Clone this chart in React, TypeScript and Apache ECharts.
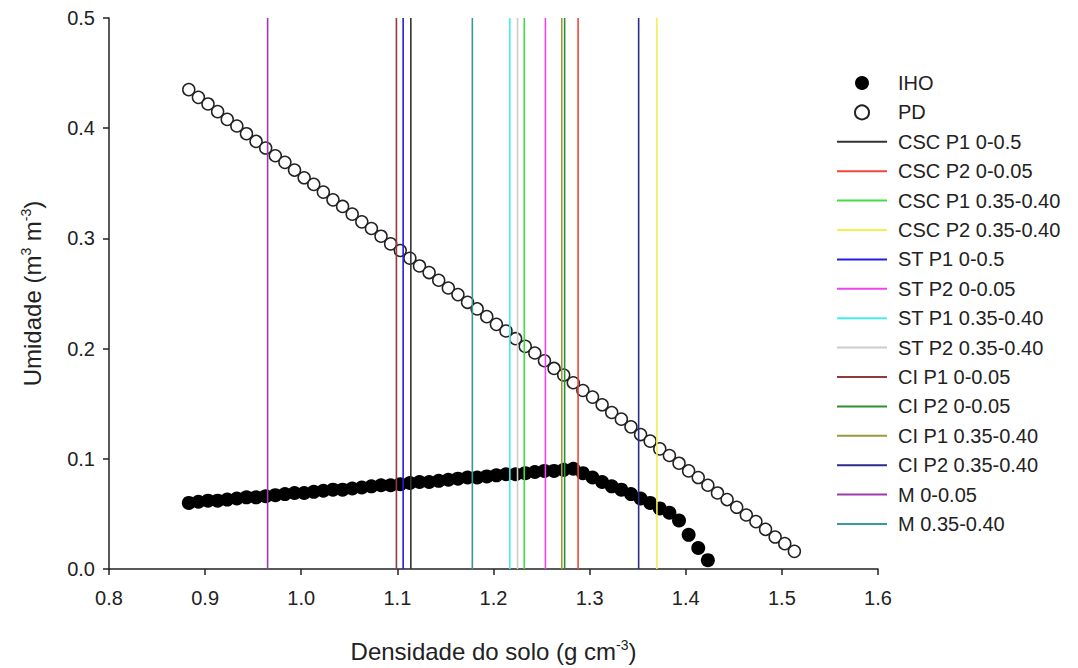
import React, { useEffect, useRef } from "react";
import * as echarts from "echarts";

// Soil bulk density grid (g cm-3) shared by both water-content curves
const density = [
  0.883, 0.893, 0.903, 0.913, 0.923, 0.933, 0.943, 0.953, 0.963, 0.973,
  0.983, 0.993, 1.003, 1.013, 1.023, 1.033, 1.043, 1.053, 1.063, 1.073,
  1.083, 1.093, 1.103, 1.113, 1.123, 1.133, 1.143, 1.153, 1.163, 1.173,
  1.183, 1.193, 1.203, 1.213, 1.223, 1.233, 1.243, 1.253, 1.263, 1.273,
  1.283, 1.293, 1.303, 1.313, 1.323, 1.333, 1.343, 1.353, 1.363, 1.373,
  1.383, 1.393, 1.403, 1.413, 1.423, 1.433, 1.443, 1.453, 1.463, 1.473,
  1.483, 1.493, 1.503, 1.513,
];

// IHO water content (m3 m-3), first 55 densities
const iho = [
  0.060, 0.061, 0.062, 0.062, 0.063, 0.064, 0.065, 0.065, 0.066, 0.067,
  0.068, 0.069, 0.069, 0.070, 0.071, 0.072, 0.072, 0.073, 0.074, 0.075,
  0.076, 0.076, 0.077, 0.078, 0.079, 0.079, 0.080, 0.081, 0.082, 0.083,
  0.083, 0.084, 0.085, 0.086, 0.086, 0.087, 0.088, 0.089, 0.089, 0.090,
  0.091, 0.087, 0.083, 0.079, 0.075, 0.072, 0.068, 0.064, 0.060, 0.055,
  0.051, 0.044, 0.031, 0.019, 0.008,
];

// PD water content (m3 m-3)
const pd = [
  0.435, 0.428, 0.422, 0.415, 0.408, 0.402, 0.395, 0.388, 0.382, 0.375,
  0.369, 0.362, 0.355, 0.349, 0.342, 0.335, 0.329, 0.322, 0.315, 0.309,
  0.302, 0.295, 0.289, 0.282, 0.275, 0.269, 0.262, 0.255, 0.249, 0.242,
  0.236, 0.229, 0.222, 0.216, 0.209, 0.202, 0.196, 0.189, 0.182, 0.176,
  0.169, 0.162, 0.156, 0.149, 0.142, 0.136, 0.129, 0.122, 0.116, 0.109,
  0.103, 0.096, 0.089, 0.083, 0.076, 0.069, 0.063, 0.056, 0.049, 0.043,
  0.036, 0.029, 0.023, 0.016,
];

// Measured bulk density per treatment (vertical reference lines)
const treatments = [
  "CSC P1 0-0.5",
  "CSC P2 0-0.05",
  "CSC P1 0.35-0.40",
  "CSC P2 0.35-0.40",
  "ST P1 0-0.5",
  "ST P2 0-0.05",
  "ST P1 0.35-0.40",
  "ST P2 0.35-0.40",
  "CI P1 0-0.05",
  "CI P2 0-0.05",
  "CI P1 0.35-0.40",
  "CI P2 0.35-0.40",
  "M 0-0.05",
  "M 0.35-0.40",
];
const treatmentDensity = [
  1.114, 1.288, 1.232, 1.37, 1.106, 1.254, 1.217, 1.225, 1.099, 1.274,
  1.271, 1.351, 0.965, 1.178,
];

const xTicks = { min: 0.8, max: 1.6, step: 0.1 };
const yTicks = { min: 0, max: 0.5, step: 0.1 };

const lineColors = [
  "#333333",
  "#f0463c",
  "#44dd44",
  "#f4ef50",
  "#2020e0",
  "#ee44ee",
  "#44eeee",
  "#cccccc",
  "#8e3b3b",
  "#2f8f2f",
  "#9c9a3c",
  "#2b2b8c",
  "#9b3caa",
  "#3a9898",
];

const FONT = "'Liberation Sans', Arial, sans-serif";

export default function App() {
  const ref = useRef<HTMLDivElement>(null);

  useEffect(() => {
    if (!ref.current) return;
    const chart = echarts.init(ref.current, undefined, { renderer: "svg" });

    const ihoData = iho.map((v, i) => [density[i], v]);
    const pdData = pd.map((v, i) => [density[i], v]);

    const lineSeries = treatments.map((name, i) => ({
      name,
      type: "line",
      symbol: "none",
      z: 5,
      lineStyle: { color: lineColors[i], width: 1.6 },
      itemStyle: { color: lineColors[i] },
      data: [
        [treatmentDensity[i], yTicks.min],
        [treatmentDensity[i], yTicks.max],
      ],
    }));

    const supRich = {
      sup: {
        fontSize: 14,
        fontFamily: FONT,
        color: "#222",
        padding: [0, 0, 12, 0],
      },
    };

    chart.setOption({
      animation: false,
      backgroundColor: "#ffffff",
      textStyle: { fontFamily: FONT },
      grid: { left: 109, right: 200, top: 18, bottom: 95 },
      legend: {
        orient: "vertical",
        left: 836,
        top: 73,
        padding: 0,
        itemWidth: 50,
        itemHeight: 14,
        itemGap: 9.4,
        textStyle: {
          fontFamily: FONT,
          fontSize: 20,
          color: "#222",
          lineHeight: 20,
          padding: [0, 0, 0, 6],
        },
        data: [
          "IHO",
          "PD",
          // line-only keys: hide the marker drawn in the middle of the icon
          ...treatments.map((name) => ({ name, itemStyle: { opacity: 0 } })),
        ],
      },
      xAxis: {
        type: "value",
        min: xTicks.min,
        max: xTicks.max,
        interval: xTicks.step,
        name: "Densidade do solo (g cm{sup|-3})",
        nameLocation: "middle",
        nameGap: 69,
        nameTextStyle: {
          fontFamily: FONT,
          fontSize: 24,
          color: "#222",
          rich: supRich,
        },
        axisLine: { onZero: false, lineStyle: { color: "#222", width: 1.5 } },
        axisTick: { length: 6, lineStyle: { color: "#222", width: 1.5 } },
        axisLabel: {
          fontFamily: FONT,
          fontSize: 20,
          color: "#222",
          margin: 19,
          formatter: (v: number) => v.toFixed(1),
        },
        splitLine: { show: false },
      },
      yAxis: {
        type: "value",
        min: yTicks.min,
        max: yTicks.max,
        interval: yTicks.step,
        name: "Umidade (m{sup|3} m{sup|-3})",
        nameLocation: "middle",
        nameGap: 64,
        nameTextStyle: {
          fontFamily: FONT,
          fontSize: 24,
          color: "#222",
          rich: supRich,
        },
        axisLine: { onZero: false, lineStyle: { color: "#222", width: 1.5 } },
        axisTick: { length: 6, lineStyle: { color: "#222", width: 1.5 } },
        axisLabel: {
          fontFamily: FONT,
          fontSize: 20,
          color: "#222",
          margin: 14,
          formatter: (v: number) => v.toFixed(1),
        },
        splitLine: { show: false },
      },
      series: [
        {
          name: "IHO",
          type: "scatter",
          symbol: "circle",
          symbolSize: 14,
          z: 2,
          itemStyle: { color: "#000000", opacity: 1 },
          data: ihoData,
        },
        {
          name: "PD",
          type: "scatter",
          symbol: "circle",
          symbolSize: 12,
          z: 3,
          itemStyle: {
            color: "#ffffff",
            borderColor: "#222",
            borderWidth: 1.5,
            opacity: 1,
          },
          data: pdData,
        },
        ...lineSeries,
      ],
    });

    return () => chart.dispose();
  }, []);

  return (
    <div
      ref={ref}
      style={{ position: "fixed", left: 0, top: 0, width: 1078, height: 668 }}
    />
  );
}
